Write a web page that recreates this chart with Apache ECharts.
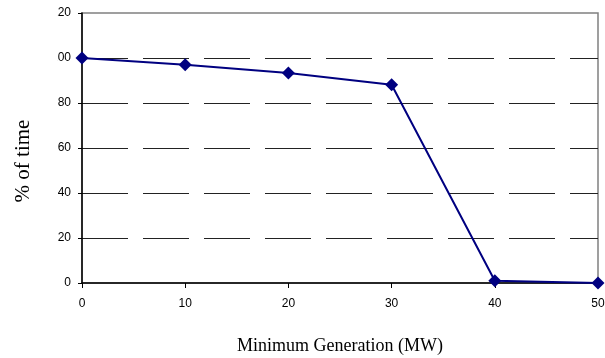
<!DOCTYPE html>
<html>
<head>
<meta charset="utf-8">
<script src="https://cdn.jsdelivr.net/npm/echarts@6/dist/echarts.min.js"></script>
<style>html,body{margin:0;padding:0;background:#fff}#c{width:605px;height:358px}</style>
</head>
<body>
<div id="c"></div>
<script>
var xValues = [0, 10, 20, 30, 40, 50];
var pctTime = [100, 97, 93.3, 88.1, 1, 0];
var xTitle = 'Minimum Generation (MW)';
var yTitle = '% of time';

var chart = echarts.init(document.getElementById('c'), null, {renderer: 'canvas'});
var data = xValues.map(function (x, i) { return [x, pctTime[i]]; });
chart.setOption({
  animation: false,
  backgroundColor: '#fff',
  grid: {left: 82, right: 7, top: 13, bottom: 75, show: true, borderColor: '#808080', borderWidth: 1.5,
         outerBoundsMode: 'none', containLabel: false},
  xAxis: {
    type: 'value', min: 0, max: 50, interval: 10,
    name: xTitle, nameLocation: 'middle', nameGap: 54,
    nameTextStyle: {fontFamily: 'Liberation Serif', fontSize: 18, color: '#000'},
    axisLine: {show: true, lineStyle: {color: '#000', width: 1.5}},
    axisTick: {show: true, length: 5, lineStyle: {color: '#000', width: 1}},
    axisLabel: {fontFamily: 'Liberation Sans', fontSize: 12, color: '#000', margin: 15},
    splitLine: {show: false}
  },
  yAxis: {
    type: 'value', min: 0, max: 120, interval: 20,
    axisLine: {show: true, lineStyle: {color: '#000', width: 1.5}},
    axisTick: {show: true, length: 4, lineStyle: {color: '#000', width: 1}},
    axisLabel: {fontFamily: 'Liberation Sans', fontSize: 12, color: '#000', margin: 11},
    splitLine: {show: true, showMinLine: false, showMaxLine: false, lineStyle: {color: '#222', width: 1, type: [46, 15]}}
  },
  graphic: [
    {type: 'rect', shape: {x: 40, y: 0, width: 17.5, height: 70}, style: {fill: '#fff'}, z: 100},
    {type: 'text', x: 23, y: 161, rotation: Math.PI / 2,
     style: {text: yTitle, font: '21px "Liberation Serif"', fill: '#000', align: 'center', verticalAlign: 'middle'}, z: 101}
  ],
  series: [{
    type: 'line', data: data,
    lineStyle: {color: '#000080', width: 2},
    itemStyle: {color: '#000080'},
    symbol: 'diamond', symbolSize: 13,
    z: 10
  }]
});
</script>
</body>
</html>
